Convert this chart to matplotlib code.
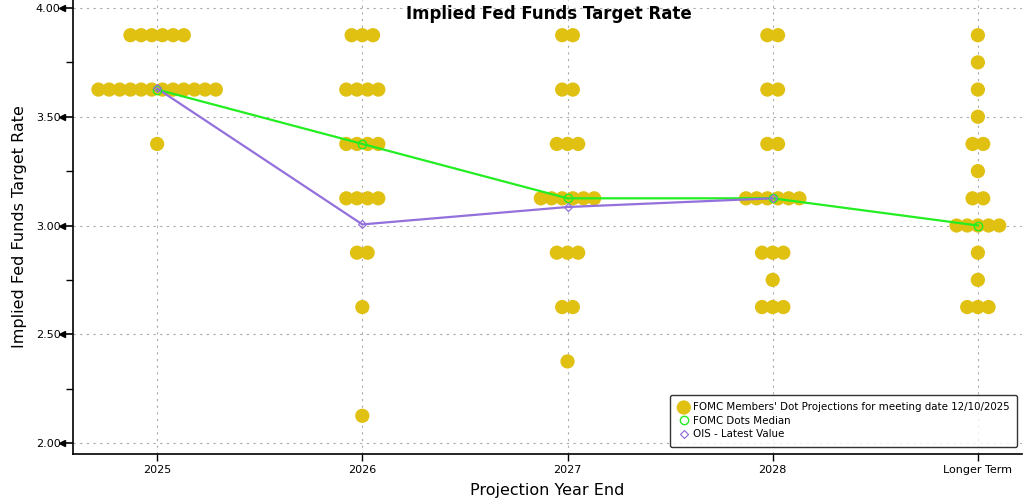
import matplotlib
matplotlib.use("Agg")
import matplotlib.pyplot as plt
from matplotlib.ticker import MultipleLocator
import numpy as np

# projection horizons
categories = ["2025", "2026", "2027", "2028", "Longer Term"]

# FOMC dot plot: rate level -> number of participants, per horizon
dots_2025 = {3.875: 6, 3.625: 12, 3.375: 1}
dots_2026 = {3.875: 3, 3.625: 4, 3.375: 4, 3.125: 4, 2.875: 2, 2.625: 1, 2.125: 1}
dots_2027 = {3.875: 2, 3.625: 2, 3.375: 3, 3.125: 6, 2.875: 3, 2.625: 2, 2.375: 1}
dots_2028 = {3.875: 2, 3.625: 2, 3.375: 2, 3.125: 6, 2.875: 3, 2.75: 1, 2.625: 3}
dots_longer = {3.875: 1, 3.75: 1, 3.625: 1, 3.5: 1, 3.375: 2, 3.25: 1,
               3.125: 2, 3.0: 5, 2.875: 1, 2.75: 1, 2.625: 3}
all_dots = [dots_2025, dots_2026, dots_2027, dots_2028, dots_longer]

median_values = [3.625, 3.375, 3.125, 3.125, 3.0]
ois_values = [3.63, 3.005, 3.085, 3.125]

dot_color = "#E0C010"
dot_step = 0.052

fig = plt.figure(figsize=(10.34, 5.04), dpi=100)
ax = fig.add_axes([0.0706, 0.0992, 0.9178, 0.9008])

first = True
for i, d in enumerate(all_dots):
    xs, ys = [], []
    for level, n in d.items():
        offs = (np.arange(n) - (n - 1) / 2) * dot_step
        xs.extend(i + offs)
        ys.extend([level] * n)
    ax.scatter(xs, ys, s=105, color=dot_color, edgecolors="none", zorder=3,
               label="FOMC Members' Dot Projections for meeting date 12/10/2025" if first else None)
    first = False

x = np.arange(len(categories))
ax.plot(x, median_values, color="#22EE22", lw=1.6, zorder=4)
ax.plot(x, median_values, ls="none", marker="o", ms=6, mfc="none", mec="#22EE22",
        mew=1.0, zorder=5, label="FOMC Dots Median")
ax.plot(x[:len(ois_values)], ois_values, color="#9370DB", lw=1.6, zorder=4)
ax.plot(x[:len(ois_values)], ois_values, ls="none", marker="D", ms=4, mfc="none",
        mec="#9370DB", mew=0.9, zorder=6, label="OIS - Latest Value")

ax.set_xlim(-0.41, 4.215)
ax.set_ylim(1.9494, 4.0368)
ax.set_xticks(x)
ax.set_xticklabels(categories, fontsize=8)
ax.yaxis.set_major_locator(MultipleLocator(0.5))
ax.yaxis.set_minor_locator(MultipleLocator(0.25))
ax.set_yticks([2.0, 2.5, 3.0, 3.5, 4.0])
ax.set_yticklabels(["2.00", "2.50", "3.00", "3.50", "4.00"], fontsize=8)
ax.tick_params(axis="y", which="major", length=7, width=1.2, pad=2)
ax.tick_params(axis="y", which="minor", length=5, width=1)
ax.tick_params(axis="x", length=5, width=1, pad=3)

# arrowhead markers on major y ticks
for yv in [2.0, 2.5, 3.0, 3.5, 4.0]:
    ax.plot([-0.012], [yv], marker="<", ms=5, color="black", clip_on=False,
            transform=ax.get_yaxis_transform(), zorder=10)

ax.grid(True, which="major", ls=(0, (2, 4)), color="#aaaaaa", lw=0.8)
ax.set_axisbelow(True)
for side in ["top", "right"]:
    ax.spines[side].set_visible(False)
ax.spines["left"].set_linewidth(1.2)
ax.spines["bottom"].set_linewidth(1.2)

ax.set_ylabel("Implied Fed Funds Target Rate", fontsize=11.5, labelpad=6)
ax.set_xlabel("Projection Year End", fontsize=11.5, labelpad=6)
fig.text(0.531, 0.972, "Implied Fed Funds Target Rate", ha="center", va="center",
         fontsize=12, fontweight="bold")

leg = ax.legend(loc="lower right", fontsize=7.4, frameon=True, fancybox=True,
                edgecolor="black", borderpad=0.7, handletextpad=0.3,
                labelspacing=0.35, handlelength=1.2, bbox_to_anchor=(1.0, 0.005))
leg.get_frame().set_linewidth(1.0)

fig.savefig("out.png", dpi=100)
